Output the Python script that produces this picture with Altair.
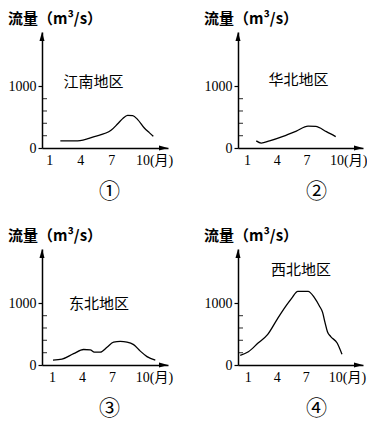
import altair as alt
import pandas as pd

# ---- data ----
months_jiangnan = [2.07, 3.75, 5.37, 6.99, 7.64, 8.12, 8.6, 9.1, 9.58, 10.2, 10.7, 11.1]
flow_jiangnan = [116, 116, 185, 286, 392, 476, 529, 524, 460, 328, 249, 190]

months_huabei = [1.94, 2.44, 3.28, 4.64, 5.98, 7.16, 7.93, 9.01, 9.95]
flow_huabei = [116, 79, 116, 190, 275, 354, 349, 265, 185]

months_dongbei = [1.1, 2.0, 3.16, 4.16, 4.83, 5.23, 5.83, 6.5, 7.16, 7.83, 8.5, 9.16, 9.83, 10.5, 11.33]
flow_dongbei = [78, 94, 183, 251, 246, 209, 209, 288, 371, 382, 371, 330, 225, 136, 78]

months_xibei = [0.23, 1.07, 2.07, 3.07, 4.07, 4.9, 5.57, 6.17, 7.23, 7.9, 8.4, 8.73, 8.97, 9.23, 9.57, 10.23, 10.73]
flow_xibei = [157, 215, 356, 497, 749, 946, 1088, 1193, 1193, 1088, 957, 852, 695, 538, 460, 356, 173]

regions = ["江南地区", "华北地区", "东北地区", "西北地区"]
panel_marks = ["①", "②", "③", "④"]
x_ticks = [1, 4, 7, 10]
y_labels = [0, 1000]
y_minor = [200, 400, 600, 800]
y_title = "流量（m³/s）"

CJK = "Noto Sans CJK SC"
SERIF = "Liberation Serif, Noto Sans CJK SC"
Y_MAX = 1880
PLOT_H = 116

UP_ARROW = "M0,0L-0.28,1L0.28,1Z"
RIGHT_ARROW = "M0,0L-1,-0.28L-1,0.28Z"

one = pd.DataFrame({"k": [0]})


def panel(months, flows, region, mark, xdom, width, label_at, mark_x):
    df = pd.DataFrame({"month": months, "flow": flows})
    xs = alt.Scale(domain=xdom, nice=False, zero=False)
    ys = alt.Scale(domain=[0, Y_MAX], nice=False, zero=False)
    xaxis = alt.Axis(
        values=x_ticks,
        labelExpr="datum.value == 10 ? '10(月)' : datum.label",
        labelOffset={"condition": {"test": "datum.value == 10", "value": 12}, "value": 0},
        ticks=False, grid=False,
        domainColor="black", domainWidth=1.5,
        labelFont=SERIF, labelFontSize=14, labelColor="black", labelPadding=5,
        title=mark, titleFont=CJK, titleFontSize=21, titleFontWeight="normal",
        titleColor="black", titleX=mark_x, titleY=43, titleBaseline="middle",
        titleAlign="center",
    )
    yaxis = alt.Axis(
        values=y_labels, title=None, grid=False, format="d",
        tickSize=4, tickColor="black", tickWidth=1.2,
        domainColor="black", domainWidth=1.5,
        labelFont=SERIF, labelFontSize=14, labelColor="black", labelPadding=2,
    )
    line = alt.Chart(df).mark_line(color="black", strokeWidth=1.3, interpolate="monotone").encode(
        x=alt.X("month:Q", scale=xs, axis=xaxis),
        y=alt.Y("flow:Q", scale=ys, axis=yaxis),
    )
    minor = alt.Chart(pd.DataFrame({"v": y_minor})).mark_tick(
        orient="horizontal", size=5, thickness=1.2, color="black", xOffset=2.5
    ).encode(
        x=alt.XDatum(xdom[0], type="quantitative", scale=xs, axis=xaxis),
        y=alt.Y("v:Q", scale=ys, axis=yaxis),
    )
    up = alt.Chart(one).mark_point(shape=UP_ARROW, size=324, filled=True, color="black", opacity=1).encode(
        x=alt.XDatum(xdom[0], type="quantitative", scale=xs, axis=xaxis),
        y=alt.YDatum(Y_MAX, type="quantitative", scale=ys, axis=yaxis),
    )
    right = alt.Chart(one).mark_point(shape=RIGHT_ARROW, size=324, filled=True, color="black", opacity=1).encode(
        x=alt.XDatum(xdom[1], type="quantitative", scale=xs, axis=xaxis),
        y=alt.YDatum(0, type="quantitative", scale=ys, axis=yaxis),
    )
    label = alt.Chart(one).mark_text(font=CJK, fontSize=15, color="black").encode(
        x=alt.XDatum(label_at[0], type="quantitative", scale=xs, axis=xaxis),
        y=alt.YDatum(label_at[1], type="quantitative", scale=ys, axis=yaxis),
        text=alt.value(region),
    )
    return alt.layer(line, minor, up, right, label).properties(
        width=width, height=PLOT_H,
        title=alt.TitleParams(y_title, anchor="start", frame="bounds", font=CJK,
                              fontSize=15, fontWeight="bold", color="black", offset=5),
    )


p1 = panel(months_jiangnan, flow_jiangnan, regions[0], panel_marks[0], [0.29, 12.52], 126, (5.3, 1063), 67)
p2 = panel(months_huabei, flow_huabei, regions[1], panel_marks[1], [0.1, 12.7], 125, (6.2, 1095), 78)
p3 = panel(months_dongbei, flow_dongbei, regions[2], panel_marks[2], [0.0, 12.6], 126, (5.7, 994), 67)
p4 = panel(months_xibei, flow_xibei, regions[3], panel_marks[3], [0.0, 12.9], 125, (6.5, 1534), 78)

chart = alt.concat(
    p1, p2, p3, p4, columns=2,
    spacing={"row": 101, "column": 70}, bounds="flush",
).properties(
    padding={"top": 4, "left": 0, "right": 0, "bottom": 4}
).configure(background="white").configure_view(stroke=None)

chart.save("out.html", embed_options={"renderer": "svg", "actions": False})
